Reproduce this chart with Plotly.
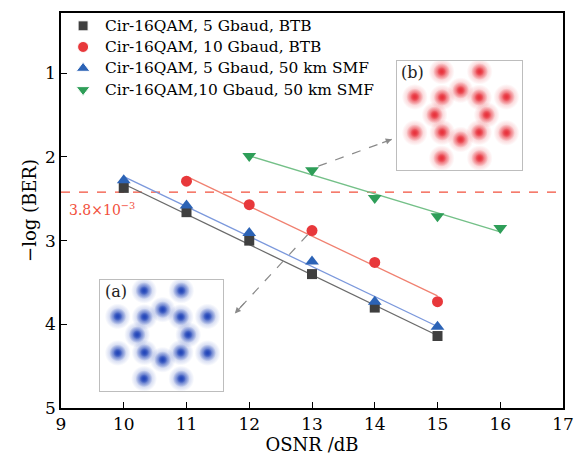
import numpy as np
import plotly.graph_objects as go

osnr_5g = [10, 11, 12, 13, 14, 15]
osnr_10g_btb = [11, 12, 13, 14, 15]
osnr_10g_smf = [12, 13, 14, 15, 16]
ber_5g_btb = [2.37, 2.66, 3.00, 3.40, 3.80, 4.14]
ber_10g_btb = [2.29, 2.57, 2.88, 3.26, 3.73]
ber_5g_smf = [2.28, 2.58, 2.91, 3.25, 3.73, 4.03]
ber_10g_smf = [1.99, 2.16, 2.49, 2.71, 2.85]
names = ["Cir-16QAM, 5 Gbaud, BTB", "Cir-16QAM, 10 Gbaud, BTB",
         "Cir-16QAM, 5 Gbaud, 50 km SMF", "Cir-16QAM,10 Gbaud, 50 km SMF"]
threshold = 2.42
x_ticks = [9, 10, 11, 12, 13, 14, 15, 16, 17]
y_ticks = [1, 2, 3, 4, 5]

# constellation (Cir-16QAM, 8+8 rings)
const_x = [1.0, 0.71, 0.0, -0.71, -1.0, -0.71, 0.0, 0.71,
           1.76, 0.73, -0.73, -1.76, -1.76, -0.73, 0.73, 1.76]
const_y = [0.0, 0.71, 1.0, 0.71, 0.0, -0.71, -1.0, -0.71,
           0.73, 1.76, 1.76, 0.73, -0.73, -1.76, -1.76, -0.73]

FONT = "DejaVu Serif"
series = [
    (osnr_5g, ber_5g_btb, "#3f3f3f", "#6a6a6a", "square", 10),
    (osnr_10g_btb, ber_10g_btb, "#e8383b", "#f08070", "circle", 11),
    (osnr_5g, ber_5g_smf, "#2c63b6", "#7b98dc", "triangle-up", 12),
    (osnr_10g_smf, ber_10g_smf, "#2e9e58", "#74c088", "triangle-down", 12),
]

fig = go.Figure()

# threshold line
fig.add_trace(go.Scatter(x=[9, 16.9], y=[threshold, threshold], mode="lines",
                         line=dict(color="#f2503c", width=1.4, dash="dash"),
                         showlegend=False, hoverinfo="skip"))

for (xs, ys, mc, lc, sym, sz) in series:
    k, b = np.polyfit(xs, ys, 1)
    xf = [xs[0], xs[-1]]
    fig.add_trace(go.Scatter(x=xf, y=[k * v + b for v in xf], mode="lines",
                             line=dict(color=lc, width=1.3), showlegend=False,
                             hoverinfo="skip"))
for (xs, ys, mc, lc, sym, sz), nm in zip(series, names):
    fig.add_trace(go.Scatter(x=xs, y=ys, mode="markers", name=nm, showlegend=False,
                             marker=dict(symbol=sym, size=sz, color=mc)))

# legend drawn on an overlay axis (fractions of the plot area)
leg_y = [0.9675, 0.914, 0.86, 0.806]
leg_x = 0.044
fig.add_trace(go.Scatter(x=[leg_x] * 4, y=leg_y, mode="markers", xaxis="x4", yaxis="y4",
                         showlegend=False, hoverinfo="skip",
                         marker=dict(symbol=[s[4] for s in series],
                                     size=[s[5] for s in series],
                                     color=[s[2] for s in series], opacity=1)))
for nm, yy in zip(names, leg_y):
    fig.add_annotation(xref="x4", yref="y4", x=0.0837, y=yy, text=nm, showarrow=False,
                       xanchor="left", yanchor="middle",
                       font=dict(family=FONT, size=15.4, color="black"))

# insets: soft blobs via radial gradient (centre = gradient colour, edge = marker colour)
def add_inset(xa, ya, col):
    for s, a in [(26, "0.5"), (17, "0.95"), (9, "1")]:
        fig.add_trace(go.Scatter(x=const_x, y=const_y, mode="markers",
                                 xaxis=xa, yaxis=ya, showlegend=False, hoverinfo="skip",
                                 marker=dict(size=s, color=col.replace("A", "0"),
                                             line=dict(width=0),
                                             gradient=dict(type="radial",
                                                           color=col.replace("A", a)))))

add_inset("x2", "y2", "rgba(35,70,185,A)")
add_inset("x3", "y3", "rgba(232,50,60,A)")

axis_common = dict(showline=True, mirror=True, linecolor="black", linewidth=1.5,
                   ticks="inside", ticklen=6, tickwidth=1.2, tickcolor="black",
                   showgrid=False, zeroline=False,
                   tickfont=dict(family=FONT, size=17, color="black"))
fig.update_layout(
    width=585, height=460,
    margin=dict(l=61, r=22, t=11, b=49),
    paper_bgcolor="white", plot_bgcolor="white",
    font=dict(family=FONT, color="black"),
    showlegend=False,
    xaxis=dict(range=[9, 17], tickvals=x_ticks,
               title=dict(text="OSNR /dB", font=dict(family=FONT, size=18), standoff=2),
               **axis_common),
    yaxis=dict(range=[5, 0.28], tickvals=y_ticks,
               title=dict(text="\u2212log (BER)", font=dict(family=FONT, size=18), standoff=4),
               **axis_common),
)
inset_ax = dict(showline=True, mirror=True, linecolor="#bdbdbd", linewidth=1.2,
                showticklabels=False, ticks="", showgrid=False, zeroline=False)
hidden = dict(visible=False, showgrid=False, zeroline=False, fixedrange=True)
fig.update_layout(
    xaxis2=dict(domain=[0.078, 0.322], range=[-2.45, 2.35], anchor="y2", **inset_ax),
    yaxis2=dict(domain=[0.043, 0.325], range=[-2.25, 2.2], anchor="x2", **inset_ax),
    xaxis3=dict(domain=[0.669, 0.918], range=[-2.45, 2.35], anchor="y3", **inset_ax),
    yaxis3=dict(domain=[0.602, 0.879], range=[-2.25, 2.2], anchor="x3", **inset_ax),
    xaxis4=dict(overlaying="x", range=[0, 1], anchor="y4", **hidden),
    yaxis4=dict(overlaying="y", range=[0, 1], anchor="x4", **hidden),
)

fig.add_annotation(xref="x2", yref="y2", x=-2.35, y=2.2, text="(a)", showarrow=False,
                   xanchor="left", yanchor="top", font=dict(family=FONT, size=16, color="#222"))
fig.add_annotation(xref="x3", yref="y3", x=-2.35, y=2.2, text="(b)", showarrow=False,
                   xanchor="left", yanchor="top", font=dict(family=FONT, size=16, color="#222"))

# threshold label
fig.add_annotation(xref="x", yref="y", x=9.1, y=2.62, text="3.8\u00d710<sup>\u22123</sup>",
                   showarrow=False, xanchor="left",
                   font=dict(family=FONT, size=14, color="#f2503c"))

# dashed arrows to insets
arrows = [((13.1, 2.11), (14.27, 1.79)), ((12.93, 2.93), (11.77, 3.87))]
for (x0, y0), (x1, y1) in arrows:
    fig.add_shape(type="line", x0=x0, y0=y0, x1=x1, y1=y1, xref="x", yref="y",
                  line=dict(color="#8a8a8a", width=1.2, dash="dash"))
    fig.add_annotation(x=x1, y=y1, ax=x1 - (x1 - x0) * 0.15, ay=y1 - (y1 - y0) * 0.15,
                       xref="x", yref="y", axref="x", ayref="y", text="",
                       showarrow=True, arrowhead=2, arrowsize=1, arrowwidth=1.2,
                       arrowcolor="#8a8a8a")

fig.write_html("out.html")
